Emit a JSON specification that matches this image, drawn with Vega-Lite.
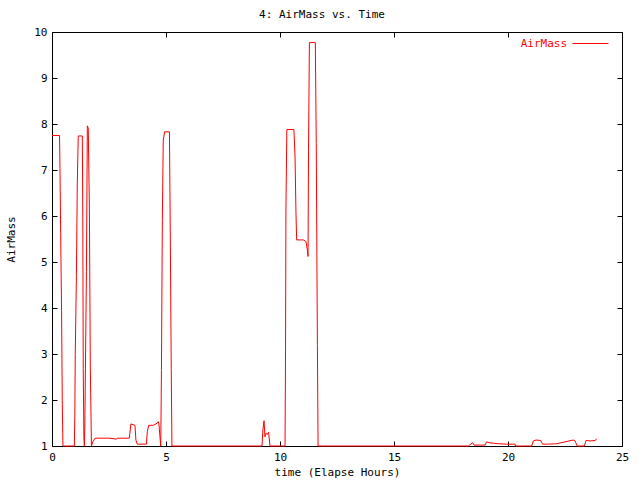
{
  "$schema": "https://vega.github.io/schema/vega-lite/v6.json",
  "width": 570,
  "height": 414,
  "autosize": {"type": "none"},
  "padding": {"left": 52, "top": 32, "right": 18, "bottom": 34},
  "background": "white",
  "title": {"text": "4: AirMass vs. Time", "font": "DejaVu Sans Mono", "fontSize": 11, "fontWeight": "normal", "color": "black", "anchor": "middle", "dx": -15, "offset": 5},
  "config": {
    "view": {"stroke": "black", "strokeWidth": 1},
    "axis": {"grid": false, "domain": false, "labelFont": "DejaVu Sans Mono", "labelFontSize": 11, "labelColor": "black", "titleFont": "DejaVu Sans Mono", "titleFontSize": 11, "titleFontWeight": "normal", "titleColor": "black", "tickColor": "black", "tickSize": -5, "tickWidth": 1}
  },
  "data": {"values": [
    {"t": 0.00, "v": 7.75}, {"t": 0.33, "v": 7.75}, {"t": 0.35, "v": 7.04}, {"t": 0.38, "v": 5.62}, {"t": 0.42, "v": 3.94}, {"t": 0.45, "v": 1.98}, {"t": 0.48, "v": 1.00},
    {"t": 0.98, "v": 1.00}, {"t": 1.00, "v": 1.65}, {"t": 1.02, "v": 2.99}, {"t": 1.07, "v": 4.70}, {"t": 1.11, "v": 6.72}, {"t": 1.15, "v": 7.74}, {"t": 1.33, "v": 7.74},
    {"t": 1.35, "v": 6.04}, {"t": 1.37, "v": 2.68}, {"t": 1.40, "v": 1.17}, {"t": 1.42, "v": 1.00}, {"t": 1.44, "v": 1.48}, {"t": 1.51, "v": 4.79}, {"t": 1.55, "v": 7.96},
    {"t": 1.59, "v": 7.91}, {"t": 1.64, "v": 6.15}, {"t": 1.68, "v": 2.72}, {"t": 1.73, "v": 1.00}, {"t": 1.79, "v": 1.09}, {"t": 1.89, "v": 1.17}, {"t": 2.50, "v": 1.17},
    {"t": 2.84, "v": 1.15}, {"t": 2.87, "v": 1.17}, {"t": 3.39, "v": 1.17}, {"t": 3.46, "v": 1.48}, {"t": 3.64, "v": 1.45}, {"t": 3.68, "v": 1.13}, {"t": 3.74, "v": 1.04},
    {"t": 4.14, "v": 1.04}, {"t": 4.18, "v": 1.31}, {"t": 4.24, "v": 1.45}, {"t": 4.44, "v": 1.45}, {"t": 4.62, "v": 1.50}, {"t": 4.66, "v": 1.53}, {"t": 4.69, "v": 1.48},
    {"t": 4.74, "v": 1.17}, {"t": 4.77, "v": 1.00}, {"t": 4.80, "v": 2.64}, {"t": 4.84, "v": 5.93}, {"t": 4.88, "v": 7.65}, {"t": 4.94, "v": 7.83}, {"t": 5.15, "v": 7.83},
    {"t": 5.18, "v": 6.13}, {"t": 5.23, "v": 2.69}, {"t": 5.26, "v": 1.00}, {"t": 9.21, "v": 1.00}, {"t": 9.25, "v": 1.35}, {"t": 9.30, "v": 1.55}, {"t": 9.34, "v": 1.20},
    {"t": 9.39, "v": 1.28}, {"t": 9.44, "v": 1.25}, {"t": 9.50, "v": 1.30}, {"t": 9.56, "v": 1.00}, {"t": 10.22, "v": 1.00}, {"t": 10.24, "v": 2.72}, {"t": 10.26, "v": 6.15},
    {"t": 10.30, "v": 7.88}, {"t": 10.61, "v": 7.88}, {"t": 10.66, "v": 7.28}, {"t": 10.70, "v": 6.07}, {"t": 10.73, "v": 5.48}, {"t": 11.02, "v": 5.48}, {"t": 11.10, "v": 5.46},
    {"t": 11.14, "v": 5.44}, {"t": 11.20, "v": 5.26}, {"t": 11.23, "v": 5.12}, {"t": 11.25, "v": 7.43}, {"t": 11.29, "v": 9.77}, {"t": 11.55, "v": 9.77}, {"t": 11.59, "v": 7.58},
    {"t": 11.64, "v": 3.20}, {"t": 11.67, "v": 1.00}, {"t": 18.26, "v": 1.00}, {"t": 18.45, "v": 1.07}, {"t": 18.51, "v": 1.02}, {"t": 18.99, "v": 1.02}, {"t": 19.06, "v": 1.09},
    {"t": 19.18, "v": 1.07}, {"t": 19.36, "v": 1.06}, {"t": 19.58, "v": 1.05}, {"t": 19.94, "v": 1.04}, {"t": 20.31, "v": 1.04}, {"t": 20.33, "v": 1.00}, {"t": 21.04, "v": 1.00},
    {"t": 21.11, "v": 1.11}, {"t": 21.23, "v": 1.13}, {"t": 21.43, "v": 1.12}, {"t": 21.52, "v": 1.04}, {"t": 21.77, "v": 1.04}, {"t": 22.13, "v": 1.05}, {"t": 22.50, "v": 1.09},
    {"t": 22.86, "v": 1.13}, {"t": 22.94, "v": 1.11}, {"t": 23.04, "v": 1.00}, {"t": 23.35, "v": 1.00}, {"t": 23.42, "v": 1.12}, {"t": 23.60, "v": 1.11}, {"t": 23.83, "v": 1.12},
    {"t": 23.89, "v": 1.16}
  ]},
  "layer": [
    {
      "mark": {"type": "line", "strokeWidth": 1, "interpolate": "linear"},
      "encoding": {
        "x": {"field": "t", "type": "quantitative", "scale": {"domain": [0, 25], "nice": false, "zero": false},
              "axis": {"orient": "bottom", "title": "time (Elapse Hours)", "values": [0, 5, 10, 15, 20, 25], "labelPadding": 10, "titlePadding": 4, "labelFlush": false}},
        "y": {"field": "v", "type": "quantitative", "scale": {"domain": [1, 10], "nice": false, "zero": false},
              "axis": {"orient": "left", "title": "AirMass", "values": [1, 2, 3, 4, 5, 6, 7, 8, 9, 10], "labelPadding": 10, "titlePadding": 17, "labelFlush": false}},
        "color": {"datum": "AirMass", "type": "nominal", "scale": {"range": ["#ff0000"]},
                  "legend": {"title": null, "orient": "none", "legendX": 520, "legendY": -7, "symbolType": "stroke", "symbolSize": 1296, "symbolStrokeWidth": 1, "symbolStrokeColor": "#ff0000", "labelAlign": "right", "labelOffset": -42, "labelColor": "#ff0000", "labelFont": "DejaVu Sans Mono", "labelFontSize": 11, "padding": 0}}
      }
    },
    {
      "mark": {"type": "line", "strokeOpacity": 0},
      "encoding": {
        "x": {"field": "t", "type": "quantitative", "scale": {"domain": [0, 25], "nice": false, "zero": false},
              "axis": {"orient": "top", "title": null, "labels": false, "values": [0, 5, 10, 15, 20, 25]}},
        "y": {"field": "v", "type": "quantitative", "scale": {"domain": [1, 10], "nice": false, "zero": false},
              "axis": {"orient": "right", "title": null, "labels": false, "values": [1, 2, 3, 4, 5, 6, 7, 8, 9, 10]}}
      }
    }
  ],
  "resolve": {"axis": {"x": "independent", "y": "independent"}}
}
